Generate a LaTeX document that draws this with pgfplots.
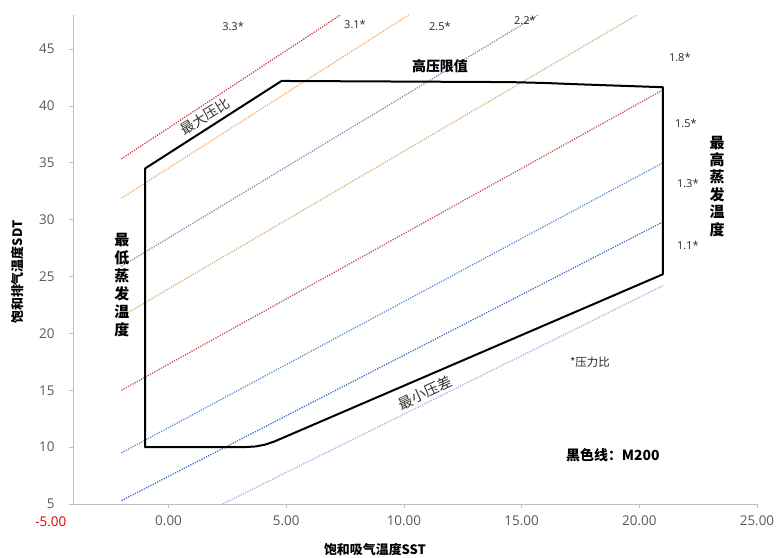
\documentclass[border=0pt]{standalone}
\usepackage{fontspec}
\setmainfont{Open Sans}
\newfontfamily\cjk{Noto Sans CJK SC}
\usepackage{pgfplots}
\pgfplotsset{compat=1.18}
\definecolor{axgray}{HTML}{BFBFBF}
\definecolor{ticktext}{HTML}{595959}
\definecolor{c33}{HTML}{C8384A}
\definecolor{c31}{HTML}{F0A868}
\definecolor{c25}{HTML}{8A84B0}
\definecolor{c22}{HTML}{C8B078}
\definecolor{c18}{HTML}{C0504D}
\definecolor{c15}{HTML}{5B8BD0}
\definecolor{c13}{HTML}{3A6BC0}
\definecolor{c11}{HTML}{A0B0E0}
\tikzset{dl/.style={line width=1.3bp, dash pattern=on 1.2bp off 1.3bp}}
\begin{document}
\begin{tikzpicture}
\begin{axis}[
  at={(0,0)}, anchor=south west,
  scale only axis, width=684bp, height=489bp,
  xmin=-4.06, xmax=25, ymin=5, ymax=48,
  axis x line*=bottom, axis y line*=left,
  axis line style={axgray, line width=0.8bp},
  every tick/.style={axgray, line width=0.8bp},
  tick align=outside, major tick length=4bp,
  xtick={0,5,...,25}, ytick={5,10,...,45},
  xticklabel style={/pgf/number format/fixed, /pgf/number format/fixed zerofill,
    /pgf/number format/precision=2, /pgf/number format/assume math mode=true,
    font=\fontsize{13.5}{15}\selectfont, text=ticktext, yshift=-4bp},
  yticklabel style={/pgf/number format/assume math mode=true,
    font=\fontsize{13.5}{15}\selectfont, text=ticktext, xshift=-11bp},
  xlabel={\cjk\bfseries 饱和吸气温度SST},
  ylabel={\cjk\bfseries 饱和排气温度SDT},
  xlabel style={at={(axis description cs:0.4415,-0.094)}, anchor=center, font=\fontsize{13}{15}\selectfont},
  ylabel style={at={(axis description cs:-0.0804,0.474)}, anchor=center, font=\fontsize{13}{15}\selectfont},
  clip=false,
]
\addplot[c33, dl] coordinates {(-2,35.35) (7.3,48)};
\addplot[c31, dl] coordinates {(-2,31.9) (10.2,48)};
\addplot[c25, dl] coordinates {(-2,25.9) (15.7,48)};
\addplot[c22, dl] coordinates {(-2,21.5) (19.9,48)};
\addplot[c18, dl] coordinates {(-2,15.0) (21,41.4)};
\addplot[c15, dl] coordinates {(-2,9.5) (21,35.0)};
\addplot[c13, dl] coordinates {(-2,5.3) (21,29.8)};
\addplot[c11, dl] coordinates {(2.3,5) (21,24.2)};
\addplot[black, line width=2bp, line join=round] coordinates {
  (-1,20) (-1,34.5) (4.8,42.2) (14.5,42.1) (16,42.02) (17.5,41.9) (21,41.65)
  (21,25.2) (4.5,10.5) (4.1,10.22) (3.7,10.06) (3.2,10.0) (-1,10) (-1,20)};
% ratio labels
\begin{scope}[every node/.style={font=\fontsize{11}{13}\selectfont, text=black!85}]
\node at (axis cs:2.74,46.99) {3.3*};
\node at (axis cs:7.92,47.17) {3.1*};
\node at (axis cs:11.53,47.0) {2.5*};
\node at (axis cs:15.14,47.5) {2.2*};
\node at (axis cs:21.72,44.26) {1.8*};
\node at (axis cs:21.98,38.45) {1.5*};
\node at (axis cs:22.06,33.17) {1.3*};
\node at (axis cs:22.06,27.7) {1.1*};
\end{scope}
\node[font=\cjk\bfseries\fontsize{14}{16}\selectfont] at (axis cs:11.53,43.47) {高压限值};
\node[font=\cjk\fontsize{14}{16}\selectfont, text=black!80, rotate=32, inner sep=0pt] at (axis cs:1.55,39.1) {最大压比};
\node[font=\cjk\fontsize{14.5}{16}\selectfont, text=black!80, rotate=25, inner sep=0pt] at (axis cs:10.89,14.77) {最小压差};
\node[font=\cjk\bfseries\fontsize{15}{18}\selectfont, align=center, inner sep=0pt] at (axis cs:-1.98,24.28) {最\\低\\蒸\\发\\温\\度};
\node[font=\cjk\bfseries\fontsize{15}{17.5}\selectfont, align=center, inner sep=0pt] at (axis cs:23.3,32.95) {最\\高\\蒸\\发\\温\\度};
\node[font=\cjk\fontsize{11.5}{13}\selectfont, text=black!85] at (axis cs:17.9,17.5) {*压力比};
\node[font=\cjk\bfseries\fontsize{14}{16}\selectfont] at (axis cs:18.88,9.31) {黑色线：M200};
\node[font=\fontsize{13.5}{15}\selectfont, text=red!85!black, anchor=center] at (axis cs:-5,5) [yshift=-18bp] {-5.00};
\end{axis}
\pgfresetboundingbox
\useasboundingbox (-73bp,-54bp) rectangle (703bp,504bp);
\end{tikzpicture}
\end{document}
